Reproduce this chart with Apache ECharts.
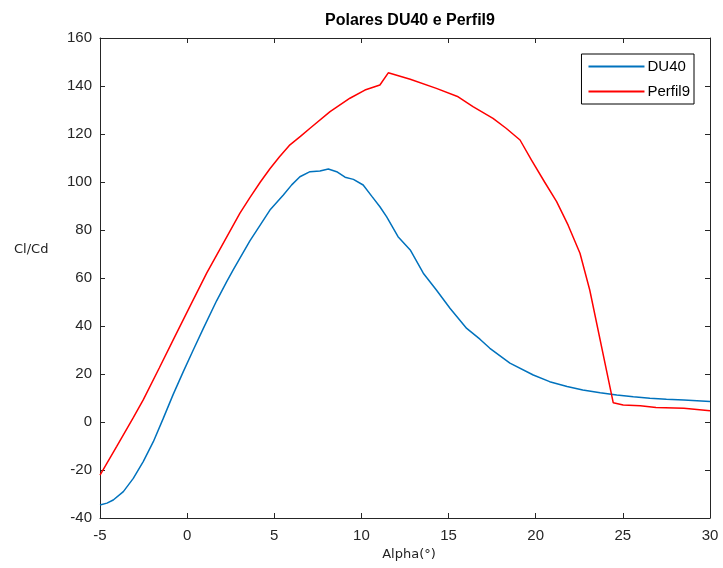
<!DOCTYPE html>
<html>
<head>
<meta charset="utf-8">
<script src="https://cdn.jsdelivr.net/npm/echarts@6/dist/echarts.min.js"></script>
<style>html,body{margin:0;padding:0;background:#fff;}#c{width:723px;height:568px;}</style>
</head>
<body>
<div id="c"></div>
<script>
const xTicks = [-5, 0, 5, 10, 15, 20, 25, 30];
const yTicks = [-40, -20, 0, 20, 40, 60, 80, 100, 120, 140, 160];

const du40Alpha  = [-5, -4.6, -4.24, -3.66, -3.09, -2.52, -1.94, -1.37, -0.8, -0.22, 0.35, 0.93, 1.69, 2.27, 2.65, 3.6, 4.75, 5.52, 6.0, 6.47, 7.05, 7.62, 8.1, 8.58, 9.06, 9.54, 10.1, 10.6, 11.06, 11.45, 12.1, 12.8, 13.55, 14.3, 15.08, 16.04, 16.8, 17.37, 18.52, 19.86, 20.8, 21.8, 22.7, 23.7, 24.65, 25.6, 26.55, 27.5, 28.5, 30];
const du40Values = [-34.6, -33.8, -32.5, -29, -23.5, -16.5, -8.2, 1.5, 11.5, 21, 30, 39, 50.5, 58.5, 63.5, 75.5, 88.3, 94.6, 98.8, 102.2, 104.3, 104.6, 105.4, 104.3, 102, 101.1, 98.75, 94, 89.7, 85.5, 77.2, 71.7, 62, 55, 47.4, 39, 34.5, 30.7, 24.5, 19.6, 16.8, 14.8, 13.3, 12.2, 11.25, 10.5, 9.9, 9.5, 9.2, 8.5];

const perfil9Alpha  = [-5, -4.04, -3.09, -2.52, -1.6, -0.8, 0.16, 1.12, 2.1, 3.03, 3.6, 4.2, 4.75, 5.3, 5.9, 6.5, 7.05, 8.2, 9.34, 10.2, 11.06, 11.54, 12.8, 14.3, 15.55, 16.4, 17.55, 18.3, 19.1, 19.75, 20.5, 21.2, 21.86, 22.54, 23.1, 24.45, 25.02, 26, 26.9, 28.5, 30];
const perfil9Values = [-22.1, -10.2, 1.8, 9.2, 22.5, 34.2, 48.2, 62, 74.8, 87, 93.5, 100, 105.5, 110.5, 115.5, 119, 122.4, 129.3, 134.9, 138.3, 140.4, 145.5, 142.8, 139, 135.5, 131.4, 126.5, 122.4, 117.5, 109.2, 100.1, 91.8, 82, 70.3, 55, 8, 7.1, 6.8, 6, 5.7, 4.7];

const du40Data = du40Alpha.map((a, i) => [a, du40Values[i]]);
const perfil9Data = perfil9Alpha.map((a, i) => [a, perfil9Values[i]]);

const font = 'Liberation Sans, Arial, sans-serif';
const axisColor = '#262626';

function xAx(pos, show) {
  return {
    type: 'value', position: pos, min: xTicks[0], max: xTicks[xTicks.length - 1], interval: 5,
    axisLine: { show: true, onZero: false, lineStyle: { color: axisColor, width: 1 } },
    axisTick: { show: true, inside: true, length: 5, lineStyle: { color: axisColor } },
    axisLabel: { show: show, color: axisColor, fontSize: 15, fontFamily: font, margin: 10 },
    splitLine: { show: false },
    name: show ? 'Alpha(°)' : '', nameLocation: 'middle', nameGap: 28,
    nameTextStyle: { color: '#222', fontSize: 13, fontFamily: 'DejaVu Sans, sans-serif', padding: [0, 0, 0, 8] }
  };
}
function yAx(pos, show) {
  return {
    type: 'value', position: pos, min: yTicks[0], max: yTicks[yTicks.length - 1], interval: 20,
    axisLine: { show: true, onZero: false, lineStyle: { color: axisColor, width: 1 } },
    axisTick: { show: true, inside: true, length: 5, lineStyle: { color: axisColor } },
    axisLabel: { show: show, color: axisColor, fontSize: 15, fontFamily: font, margin: 8 },
    splitLine: { show: false }
  };
}

const chart = echarts.init(document.getElementById('c'), null, { renderer: 'canvas' });
chart.setOption({
  backgroundColor: '#fff',
  animation: false,
  title: {
    text: 'Polares DU40 e Perfil9', left: 405, top: 8, textAlign: 'center',
    textStyle: { fontSize: 16, fontWeight: 'bold', fontFamily: font, color: '#000' }
  },
  grid: { left: 100, right: 13, top: 38, bottom: 50, containLabel: false },
  xAxis: [xAx('bottom', true), xAx('top', false)],
  yAxis: [yAx('left', true), yAx('right', false)],
  legend: {
    orient: 'vertical', right: 29, top: 54,
    itemWidth: 56, itemHeight: 14, itemGap: 10,
    padding: [5, 4, 5, 6],
    borderColor: '#000', borderWidth: 1, borderRadius: 0,
    backgroundColor: '#fff',
    itemStyle: { color: 'rgba(0,0,0,0)', borderColor: 'rgba(0,0,0,0)', borderWidth: 0, opacity: 0 },
    textStyle: { fontSize: 15, fontFamily: font, color: '#000', padding: [0, 0, 0, -2] },
    data: ['DU40', 'Perfil9']
  },
  graphic: [{
    type: 'text', left: 14, top: 243,
    style: { text: 'Cl/Cd', fontSize: 13, fontFamily: 'DejaVu Sans, sans-serif', fill: '#222' }
  }],
  series: [
    { name: 'DU40', type: 'line', data: du40Data, symbol: 'none', smooth: false,
      lineStyle: { color: '#0072BD', width: 1.5 }, itemStyle: { color: '#0072BD' } },
    { name: 'Perfil9', type: 'line', data: perfil9Data, symbol: 'none', smooth: false,
      lineStyle: { color: '#FF0000', width: 1.5 }, itemStyle: { color: '#FF0000' } }
  ]
});
</script>
</body>
</html>
